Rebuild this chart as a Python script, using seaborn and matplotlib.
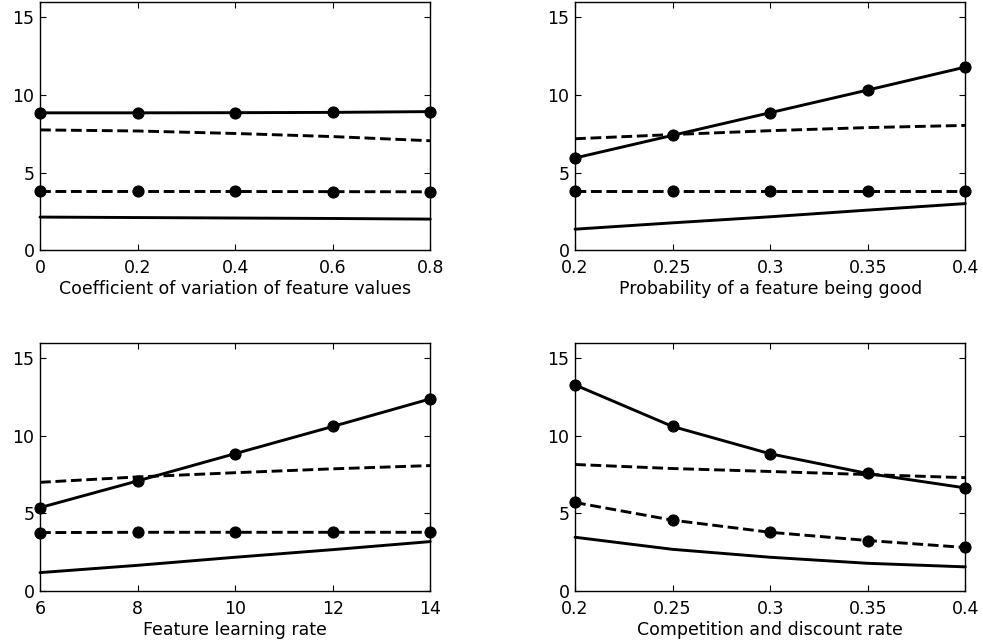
import pandas as pd
import matplotlib
matplotlib.use("Agg")
import matplotlib.pyplot as plt
import seaborn as sns

# x values for each panel
x_cv = [0, 0.2, 0.4, 0.6, 0.8]
x_prob = [0.2, 0.25, 0.3, 0.35, 0.4]
x_learn = [6, 8, 10, 12, 14]
x_comp = [0.2, 0.25, 0.3, 0.35, 0.4]

# series: solid+markers, dashed, dashed+markers, solid
cv_solid_mk = [8.85, 8.85, 8.86, 8.88, 8.93]
cv_dash = [7.75, 7.68, 7.52, 7.32, 7.05]
cv_dash_mk = [3.78, 3.78, 3.78, 3.77, 3.76]
cv_solid = [2.13, 2.1, 2.07, 2.04, 2.0]

prob_solid_mk = [5.94, 7.4, 8.86, 10.32, 11.8]
prob_dash = [7.18, 7.45, 7.7, 7.9, 8.04]
prob_dash_mk = [3.78, 3.78, 3.78, 3.78, 3.78]
prob_solid = [1.35, 1.76, 2.15, 2.58, 3.0]

learn_solid_mk = [5.37, 7.09, 8.85, 10.6, 12.38]
learn_dash = [7.0, 7.35, 7.62, 7.87, 8.08]
learn_dash_mk = [3.76, 3.78, 3.78, 3.78, 3.78]
learn_solid = [1.18, 1.65, 2.17, 2.66, 3.18]

comp_solid_mk = [13.28, 10.6, 8.84, 7.57, 6.64]
comp_dash = [8.15, 7.89, 7.7, 7.5, 7.3]
comp_dash_mk = [5.7, 4.56, 3.78, 3.25, 2.8]
comp_solid = [3.46, 2.68, 2.17, 1.78, 1.55]

xlabels = ["Coefficient of variation of feature values",
           "Probability of a feature being good",
           "Feature learning rate",
           "Competition and discount rate"]
xticks = [[0, 0.2, 0.4, 0.6, 0.8],
          [0.2, 0.25, 0.3, 0.35, 0.4],
          [6, 8, 10, 12, 14],
          [0.2, 0.25, 0.3, 0.35, 0.4]]
xticklabels = [["0", "0.2", "0.4", "0.6", "0.8"],
               ["0.2", "0.25", "0.3", "0.35", "0.4"],
               ["6", "8", "10", "12", "14"],
               ["0.2", "0.25", "0.3", "0.35", "0.4"]]

panels = [
    (x_cv, [cv_solid_mk, cv_dash, cv_dash_mk, cv_solid]),
    (x_prob, [prob_solid_mk, prob_dash, prob_dash_mk, prob_solid]),
    (x_learn, [learn_solid_mk, learn_dash, learn_dash_mk, learn_solid]),
    (x_comp, [comp_solid_mk, comp_dash, comp_dash_mk, comp_solid]),
]

sns.set_style("ticks")
plt.rcParams['font.family'] = ['DejaVu Sans']
plt.rcParams['text.color'] = 'black'
plt.rcParams['axes.labelcolor'] = 'black'
plt.rcParams['xtick.color'] = 'black'
plt.rcParams['ytick.color'] = 'black'

fig = plt.figure(figsize=(9.83, 6.43), dpi=100)
positions = [
    [0.0407, 0.611, 0.397, 0.386],
    [0.585, 0.611, 0.397, 0.386],
    [0.0407, 0.081, 0.397, 0.386],
    [0.585, 0.081, 0.397, 0.386],
]

styles = [("-", True), ("--", False), ("--", True), ("-", False)]

for i, (xs, series) in enumerate(panels):
    ax = fig.add_axes(positions[i])
    for ys, (ls, mk) in zip(series, styles):
        df = pd.DataFrame({"x": xs, "y": ys})
        line_kw = dict(color="black", linewidth=2.1, linestyle=ls)
        if ls == "--":
            line_kw["dashes"] = (4, 3.6)
        sns.lineplot(data=df, x="x", y="y", ax=ax,
                     marker="o" if mk else None, markersize=8,
                     markeredgecolor="black", markerfacecolor="black",
                     clip_on=False, zorder=3, **line_kw)
    ax.set_xlim(xs[0], xs[-1])
    ax.set_ylim(0, 16)
    ax.set_xticks(xticks[i])
    ax.set_xticklabels(xticklabels[i])
    ax.set_yticks([0, 5, 10, 15])
    ax.set_ylabel("")
    ax.set_xlabel(xlabels[i], fontsize=12.5, labelpad=2)
    ax.tick_params(direction="in", length=4, width=0.8, labelsize=12.5,
                   top=True, right=True)
    ax.tick_params(axis="x", pad=6.5)
    ax.tick_params(axis="y", pad=4)
    for sp in ax.spines.values():
        sp.set_visible(True)
        sp.set_linewidth(1.0)
        sp.set_color("black")

fig.savefig("out.png", dpi=100)
